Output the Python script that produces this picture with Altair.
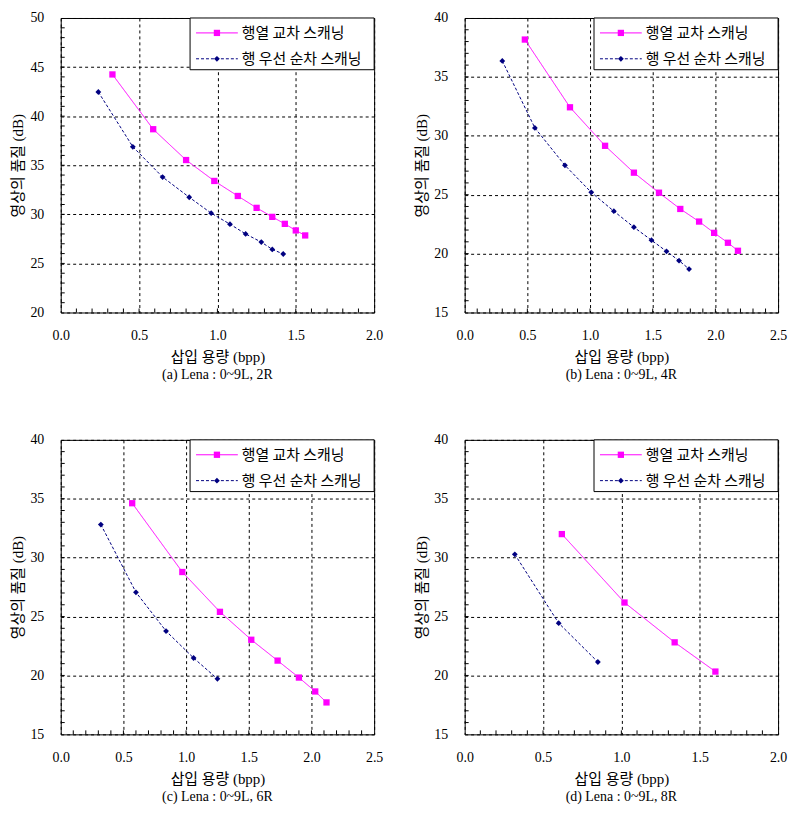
import altair as alt
import pandas as pd

S1 = "행열 교차 스캐닝"
S2 = "행 우선 순차 스캐닝"

# (a) Lena : 0~9L, 2R
a_x1 = [0.33, 0.59, 0.80, 0.98, 1.13, 1.25, 1.35, 1.43, 1.50, 1.56]
a_y1 = [44.25, 38.67, 35.53, 33.40, 31.87, 30.66, 29.74, 29.03, 28.36, 27.85]
a_x2 = [0.24, 0.46, 0.65, 0.82, 0.96, 1.08, 1.18, 1.28, 1.35, 1.42]
a_y2 = [42.46, 36.88, 33.80, 31.74, 30.12, 29.00, 28.00, 27.17, 26.43, 25.96]

# (b) Lena : 0~9L, 4R
b_x1 = [0.48, 0.84, 1.12, 1.35, 1.55, 1.72, 1.87, 1.99, 2.10, 2.18]
b_y1 = [38.17, 32.42, 29.15, 26.87, 25.17, 23.79, 22.72, 21.76, 20.92, 20.24]
b_x2 = [0.30, 0.56, 0.80, 1.01, 1.19, 1.35, 1.49, 1.61, 1.71, 1.79]
b_y2 = [36.36, 30.67, 27.49, 25.20, 23.60, 22.24, 21.14, 20.19, 19.40, 18.69]

# (c) Lena : 0~9L, 6R
c_x1 = [0.57, 0.97, 1.27, 1.52, 1.73, 1.90, 2.03, 2.12]
c_y1 = [34.62, 28.78, 25.40, 23.03, 21.26, 19.82, 18.64, 17.71]
c_x2 = [0.32, 0.60, 0.84, 1.06, 1.25]
c_y2 = [32.81, 27.06, 23.77, 21.48, 19.71]

# (d) Lena : 0~9L, 8R
d_x1 = [0.62, 1.02, 1.34, 1.60]
d_y1 = [32.00, 26.19, 22.81, 20.33]
d_x2 = [0.32, 0.60, 0.85]
d_y2 = [30.28, 24.44, 21.14]

W, H = 315, 296
SERIF = "Liberation Serif, 'Noto Sans CJK KR'"
KR = "'Noto Sans CJK KR', sans-serif"
MAG = "#FF00FF"
NAVY = "#000080"


def panel(x1, y1, x2, y2, xmax, ymin, ymax, caption):
    rows = []
    for i, (x, y) in enumerate(zip(x1, y1)):
        rows.append({"x": x, "y": y, "s": S1, "o": i})
    for i, (x, y) in enumerate(zip(x2, y2)):
        rows.append({"x": x, "y": y, "s": S2, "o": i})
    df = pd.DataFrame(rows)

    nx = int(round(xmax * 10))
    major_x = [i * 0.5 for i in range(int(xmax / 0.5) + 1)]
    minor_x = pd.DataFrame({"x": [i / 10 for i in range(1, nx)]})
    major_y = list(range(ymin, ymax + 1, 5))
    minor_y = pd.DataFrame({"y": list(range(ymin + 1, ymax))})

    xenc = alt.X("x:Q", scale=alt.Scale(domain=[0, xmax], nice=False, zero=False),
                 axis=alt.Axis(values=major_x, format=".1f", title="삽입 용량 (bpp)"))
    yenc = alt.Y("y:Q", scale=alt.Scale(domain=[ymin, ymax], nice=False, zero=False),
                 axis=alt.Axis(values=major_y, format="d", title="영상의 품질 (dB)"))
    color = alt.Color("s:N", scale=alt.Scale(domain=[S1, S2], range=[MAG, NAVY]), legend=None)

    lines = alt.Chart(df).mark_line(strokeWidth=1).encode(
        x=xenc, y=yenc, color=color, order="o:Q",
        strokeDash=alt.StrokeDash("s:N", scale=alt.Scale(domain=[S1, S2], range=[[1, 0], [3, 2]]), legend=None),
    )
    pts = alt.Chart(df).mark_point(filled=True, opacity=1).encode(
        x=xenc, y=yenc, color=color,
        shape=alt.Shape("s:N", scale=alt.Scale(domain=[S1, S2], range=["square", "diamond"]), legend=None),
        size=alt.Size("s:N", scale=alt.Scale(domain=[S1, S2], range=[40, 34]), legend=None),
    )
    tx = alt.Chart(minor_x).mark_rule(color="black", strokeWidth=1).encode(
        x=xenc, y=alt.value(H), y2=alt.value(H - 4))
    ty = alt.Chart(minor_y).mark_rule(color="black", strokeWidth=1).encode(
        y=yenc, x=alt.value(0), x2=alt.value(4))

    one = alt.Data(values=[{"k": 0}])
    box = alt.Chart(one).mark_rect(fill="white", stroke="black", strokeWidth=1).encode(
        x=alt.value(130), x2=alt.value(W), y=alt.value(0), y2=alt.value(52))
    l1 = alt.Chart(one).mark_rule(color=MAG, strokeWidth=1).encode(
        x=alt.value(136), x2=alt.value(178), y=alt.value(15))
    l2 = alt.Chart(one).mark_rule(color=NAVY, strokeWidth=1, strokeDash=[3, 2]).encode(
        x=alt.value(136), x2=alt.value(178), y=alt.value(41))
    p1 = alt.Chart(one).mark_point(filled=True, shape="square", size=40, color=MAG, opacity=1).encode(
        x=alt.value(157), y=alt.value(15))
    p2 = alt.Chart(one).mark_point(filled=True, shape="diamond", size=34, color=NAVY, opacity=1).encode(
        x=alt.value(157), y=alt.value(41))
    t1 = alt.Chart(one).mark_text(text=S1, align="left", baseline="middle", font=KR, fontSize=15).encode(
        x=alt.value(182), y=alt.value(15))
    t2 = alt.Chart(one).mark_text(text=S2, align="left", baseline="middle", font=KR, fontSize=15).encode(
        x=alt.value(182), y=alt.value(41))

    return alt.layer(lines, pts, tx, ty, box, l1, l2, p1, p2, t1, t2).properties(
        width=W, height=H,
        title=alt.TitleParams(text=caption, orient="bottom", anchor="middle", font=SERIF,
                              fontSize=14, fontWeight="normal", color="black", offset=4),
    )


pa = panel(a_x1, a_y1, a_x2, a_y2, 2.0, 20, 50, "(a) Lena : 0~9L, 2R")
pb = panel(b_x1, b_y1, b_x2, b_y2, 2.5, 15, 40, "(b) Lena : 0~9L, 4R")
pc = panel(c_x1, c_y1, c_x2, c_y2, 2.5, 15, 40, "(c) Lena : 0~9L, 6R")
pd_ = panel(d_x1, d_y1, d_x2, d_y2, 2.0, 15, 40, "(d) Lena : 0~9L, 8R")

chart = alt.vconcat(
    alt.hconcat(pa, pb, spacing=30),
    alt.hconcat(pc, pd_, spacing=30),
    spacing=49,
).properties(
    padding={"left": 2, "top": 0, "right": 5, "bottom": 5},
    background="white",
).configure_view(
    stroke="black", strokeWidth=1,
).configure_axis(
    grid=True, gridColor="black", gridDash=[3, 3], gridOpacity=1, gridWidth=1,
    domain=False, ticks=False, tickSize=0, labelFlush=False,
    labelFont=SERIF, labelFontSize=14, labelColor="black",
    titleFont=SERIF, titleFontSize=15, titleFontWeight="normal", titleColor="black",
).configure_axisX(
    labelPadding=16, titlePadding=7,
).configure_axisY(
    labelPadding=17, titlePadding=4,
)

chart.save("out.html", embed_options={"renderer": "svg", "actions": False})
